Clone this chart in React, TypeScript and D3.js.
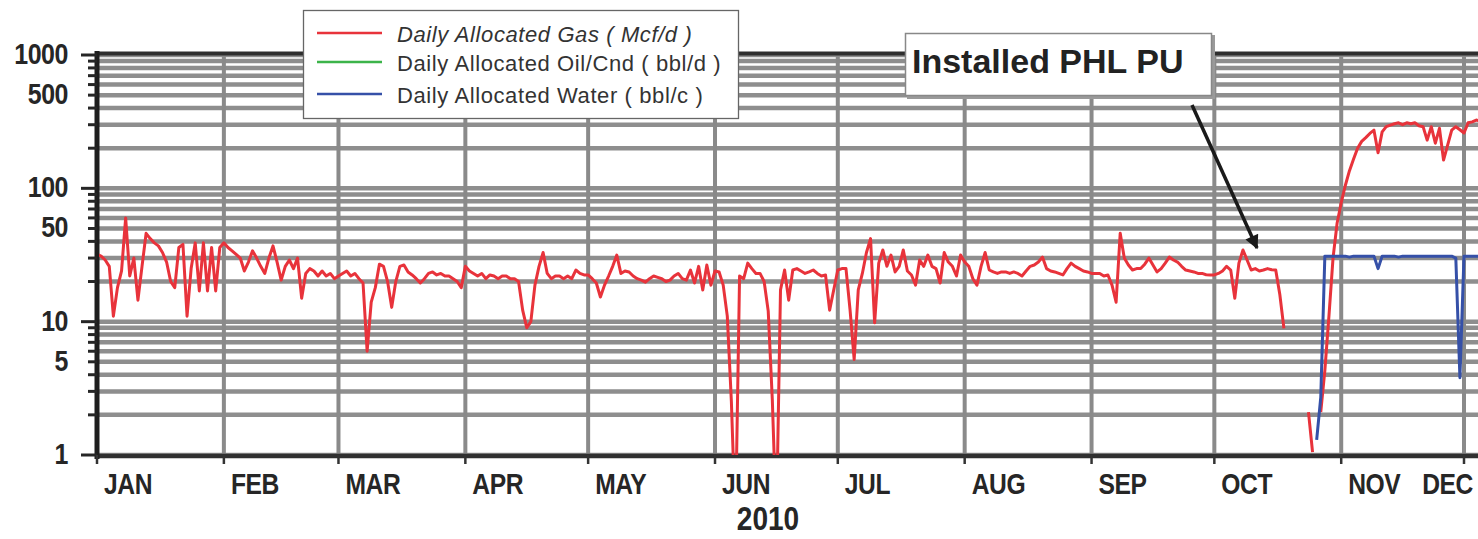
import { useEffect, useRef } from "react";
import * as d3 from "d3";

// x axis: one label per month, 2010
const MONTHS = ["JAN", "FEB", "MAR", "APR", "MAY", "JUN", "JUL", "AUG", "SEP", "OCT", "NOV", "DEC"];
const YEAR_LABEL = "2010";
const Y_TICKS = [1, 5, 10, 50, 100, 500, 1000];

const LEGEND = [
  { label: "Daily Allocated Gas ( Mcf/d )", color: "#e8333b", italic: true },
  { label: "Daily Allocated Oil/Cnd ( bbl/d )", color: "#3cb44a", italic: false },
  { label: "Daily Allocated Water ( bbl/c )", color: "#3550a8", italic: false },
];
const ANNOTATION = "Installed PHL PU";

// daily gas rate (Mcf/d); null = no data
const GAS_JAN = [32, 31, 29, 26, 11, 18, 24, 60, 22, 30, 14.5, 26, 46, 42, 39, 37, 33, 28, 20, 18, 36, 38, 11, 25, 39, 17, 39, 17, 36, 17, 36];
const GAS_FEB = [39, 36, 34, 32, 30, 24, 28, 34, 30, 26, 23, 30, 37, 28, 20.5, 26, 29, 25, 30, 15, 23, 25, 24, 22, 24, 22, 23, 21];
const GAS_MAR = [22, 23, 24, 22, 23, 21, 19.5, 6, 14, 18, 27, 26, 20, 12.8, 20, 26, 26.6, 23.6, 22.4, 21, 19.5, 21, 23, 23.6, 22.4, 23, 22, 22, 21, 20, 18];
const GAS_APR = [26, 24, 23, 22, 23, 21, 22.4, 22, 21, 22, 22, 21, 21, 20, 12.2, 9, 10, 18.8, 26, 33, 23, 21, 22, 22, 21, 22, 21, 24.4, 23, 22.4];
const GAS_MAY = [22.4, 21, 19.5, 15.3, 18.8, 22, 26, 31.6, 23, 24, 23.6, 22, 21, 20.5, 19.8, 21, 22, 21.5, 21, 20, 20.5, 22, 23, 21, 20.5, 24.4, 19.5, 26, 17.3, 26.6, 18.8];
const GAS_JUN = [24, 23.6, 18.8, 11, 2.5, 0.3, 22, 21, 27.5, 25, 23, 23, 20, 12, 2.6, 0.3, 17.3, 24.4, 14.5, 24.4, 25, 24, 23, 23.6, 24.4, 23, 22, 22.4, 12.2, 17.3];
const GAS_JUL = [24.4, 25, 25, 12.2, 5.2, 17.3, 23, 33, 42, 9.8, 27.5, 34.5, 26, 31.6, 23.6, 26, 34.5, 24, 22.4, 18.8, 29, 26, 31.6, 26, 25, 19.5, 33, 28, 26, 22, 31.6];
const GAS_AUG = [28, 26, 21, 18.8, 26, 33, 24.4, 23.6, 23, 23.6, 23.6, 23, 23.6, 23, 22, 24, 26, 26.6, 28, 30.5, 25, 24, 23.6, 23, 22.4, 25, 27.5, 26, 25, 24, 23.6];
const GAS_SEP = [23, 23, 23, 22, 22.4, 18.8, 14, 46, 30, 26.6, 24.4, 25, 25, 27, 30, 26.6, 23.6, 25, 27.5, 30.5, 29, 28, 26, 24.4, 24, 23.6, 23, 23, 22.5, 22.4];
const GAS_OCT = [22.4, 23, 24, 26, 24.4, 15, 27.5, 34.5, 29, 24.4, 25, 24, 24.4, 25, 24.5, 24.4, 16, 8.9, null, null, null, null, null, 2.1, 1.05, null, 2.1, 4.3, 11, 30, 55];
const GAS_NOV = [78, 105, 135, 165, 200, 225, 240, 258, 273, 185, 265, 290, 298, 305, 310, 300, 310, 305, 310, 295, 290, 230, 290, 218, 282, 163, 211, 273, 290, 275];
const GAS_DEC = [260, 310, 315, 325, 320];

// oil/condensate: nothing plotted
const OIL: (number | null)[] = [];

// daily water (bbl/d), starting Oct 26
const WATER_START = "2010-10-26";
const WATER_OCT = [1.3, 2.7, 31, 31, 31, 31];
const WATER_NOV = [31, 31, 30.5, 31, 31, 31, 31, 31, 31, 25, 31, 31, 31, 31, 30.5, 31, 31, 31, 31, 31, 31, 31, 31, 31, 31, 31, 31, 31, 30, 3.8];
const WATER_DEC = [31, 31, 31, 31, 31];

const GAS = [...GAS_JAN, ...GAS_FEB, ...GAS_MAR, ...GAS_APR, ...GAS_MAY, ...GAS_JUN, ...GAS_JUL, ...GAS_AUG, ...GAS_SEP, ...GAS_OCT, ...GAS_NOV, ...GAS_DEC];
const WATER = [...WATER_OCT, ...WATER_NOV, ...WATER_DEC];

const W = 1478;
const H = 539;

const App = () => {
  const svgRef = useRef<SVGSVGElement>(null);

  useEffect(() => {
    if (!svgRef.current) return;
    const svg = d3.select(svgRef.current);
    svg.selectAll("*").remove();

    const left = 97;
    const top = 55;
    const bottom = 455;
    const start = new Date(Date.UTC(2010, 0, 1));

    const x = d3
      .scaleUtc()
      .domain([start, new Date(Date.UTC(2010, 11, 1))])
      .range([left, 1464]);
    const y = d3.scaleLog().domain([1, 1000]).range([bottom, top]);

    const font = "'Liberation Sans', Arial, sans-serif";
    const grid = "#8e8e8e";
    const ink = "#262626";

    // horizontal grid, one per log tick
    svg
      .append("g")
      .selectAll("line")
      .data(y.ticks())
      .join("line")
      .attr("x1", left)
      .attr("x2", W)
      .attr("y1", (d) => y(d))
      .attr("y2", (d) => y(d))
      .attr("stroke", grid)
      .attr("stroke-width", 4.5);

    // vertical grid at month starts
    const monthDates = MONTHS.map((_, i) => new Date(Date.UTC(2010, i, 1)));
    svg
      .append("g")
      .selectAll("line")
      .data(monthDates.slice(1))
      .join("line")
      .attr("x1", (d) => x(d))
      .attr("x2", (d) => x(d))
      .attr("y1", top)
      .attr("y2", bottom)
      .attr("stroke", "#8a8a8a")
      .attr("stroke-width", 4);

    // frame / axes
    svg.append("line").attr("x1", left).attr("x2", W).attr("y1", top - 1.5).attr("y2", top - 1.5)
      .attr("stroke", "#2e2e2e").attr("stroke-width", 4);
    svg.append("line").attr("x1", left - 2).attr("x2", W).attr("y1", bottom + 1).attr("y2", bottom + 1)
      .attr("stroke", "#303030").attr("stroke-width", 4.5);
    svg.append("line").attr("x1", left).attr("x2", left).attr("y1", top - 4).attr("y2", bottom + 4)
      .attr("stroke", "#1e1e1e").attr("stroke-width", 5);

    // y ticks
    svg
      .append("g")
      .selectAll("line")
      .data(y.ticks())
      .join("line")
      .attr("x1", (d) => (Math.log10(d) % 1 === 0 ? left - 16 : left - 9))
      .attr("x2", left)
      .attr("y1", (d) => y(d))
      .attr("y2", (d) => y(d))
      .attr("stroke", ink)
      .attr("stroke-width", 3);

    // x ticks
    svg
      .append("g")
      .selectAll("line")
      .data(monthDates)
      .join("line")
      .attr("x1", (d) => x(d))
      .attr("x2", (d) => x(d))
      .attr("y1", bottom)
      .attr("y2", bottom + 9)
      .attr("stroke", "#333")
      .attr("stroke-width", 2.5);

    // y labels (condensed bold)
    Y_TICKS.forEach((t) => {
      svg
        .append("text")
        .attr("transform", `translate(68,${y(t) + 9}) scale(0.86,1)`)
        .attr("text-anchor", "end")
        .attr("font-family", font)
        .attr("font-weight", "bold")
        .attr("font-size", 29)
        .attr("letter-spacing", -0.5)
        .attr("fill", ink)
        .text(t);
    });

    // month labels, kept inside the visible area
    MONTHS.forEach((m, i) => {
      const t = svg
        .append("text")
        .attr("font-family", font)
        .attr("font-weight", "bold")
        .attr("font-size", 29)
        .attr("letter-spacing", -0.5)
        .attr("fill", ink)
        .text(m);
      const w = (t.node() as SVGTextElement).getComputedTextLength() * 0.85;
      const lx = Math.min(x(monthDates[i]) + 7, W - 5 - w);
      t.attr("transform", `translate(${lx},494) scale(0.85,1)`);
    });

    svg
      .append("text")
      .attr("transform", `translate(768,530) scale(0.85,1)`)
      .attr("text-anchor", "middle")
      .attr("font-family", font)
      .attr("font-weight", "bold")
      .attr("font-size", 33)
      .attr("fill", ink)
      .text(YEAR_LABEL);

    // data
    svg
      .append("defs")
      .append("clipPath")
      .attr("id", "plot-clip")
      .append("rect")
      .attr("x", left + 2)
      .attr("y", top)
      .attr("width", W - left)
      .attr("height", bottom - top);

    type Pt = { date: Date; v: number | null };
    const line = d3
      .line<Pt>()
      .defined((d) => d.v != null)
      .x((d) => x(d.date))
      .y((d) => y(Math.max(d.v as number, 0.1)));

    const waterStart = new Date(WATER_START + "T00:00:00Z");
    const series: { pts: Pt[]; color: string }[] = [
      { pts: GAS.map((v, i) => ({ date: d3.utcDay.offset(start, i), v })), color: LEGEND[0].color },
      { pts: OIL.map((v, i) => ({ date: d3.utcDay.offset(start, i), v })), color: LEGEND[1].color },
      { pts: WATER.map((v, i) => ({ date: d3.utcDay.offset(waterStart, i), v })), color: LEGEND[2].color },
    ];

    const plot = svg.append("g").attr("clip-path", "url(#plot-clip)");
    series.forEach((s) => {
      if (!s.pts.length) return;
      plot
        .append("path")
        .attr("d", line(s.pts))
        .attr("fill", "none")
        .attr("stroke", s.color)
        .attr("stroke-width", 3)
        .attr("stroke-linejoin", "round");
    });

    // legend
    const lg = svg.append("g");
    lg.append("rect")
      .attr("x", 303.5)
      .attr("y", 10.5)
      .attr("width", 435)
      .attr("height", 108)
      .attr("fill", "#fff")
      .attr("stroke", "#666")
      .attr("stroke-width", 1.3);
    const rowY = [33, 62, 94];
    LEGEND.forEach((e, i) => {
      lg.append("line")
        .attr("x1", 317)
        .attr("x2", 382)
        .attr("y1", rowY[i])
        .attr("y2", rowY[i])
        .attr("stroke", e.color)
        .attr("stroke-width", 2.5);
      lg.append("text")
        .attr("x", 397)
        .attr("y", rowY[i] + 9)
        .attr("font-family", font)
        .attr("font-size", 22)
        .attr("font-style", e.italic ? "italic" : "normal")
        .attr("letter-spacing", 0.6)
        .attr("fill", "#333")
        .text(e.label);
    });

    // annotation
    svg.append("rect").attr("x", 907).attr("y", 35).attr("width", 308).attr("height", 64).attr("fill", "#9a9a9a");
    svg.append("rect")
      .attr("x", 905.5)
      .attr("y", 33.5)
      .attr("width", 306)
      .attr("height", 62)
      .attr("fill", "#fff")
      .attr("stroke", "#888")
      .attr("stroke-width", 1.5);
    svg.append("text")
      .attr("x", 912)
      .attr("y", 73)
      .attr("font-family", font)
      .attr("font-weight", "bold")
      .attr("font-size", 34)
      .attr("fill", "#222")
      .text(ANNOTATION);

    svg.select("defs")
      .append("marker")
      .attr("id", "arrow")
      .attr("viewBox", "0 0 10 10")
      .attr("refX", 9)
      .attr("refY", 5)
      .attr("markerWidth", 16)
      .attr("markerHeight", 14)
      .attr("markerUnits", "userSpaceOnUse")
      .attr("orient", "auto")
      .append("path")
      .attr("d", "M0,0 L10,5 L0,10 Z")
      .attr("fill", "#1a1a1a");
    svg.append("line")
      .attr("x1", 1192)
      .attr("y1", 105)
      .attr("x2", 1257)
      .attr("y2", 248)
      .attr("stroke", "#1a1a1a")
      .attr("stroke-width", 3.5)
      .attr("marker-end", "url(#arrow)");
  }, []);

  return (
    <div style={{ position: "fixed", left: 0, top: 0, width: W, height: H, overflow: "hidden", background: "#fff" }}>
      <svg ref={svgRef} width={W} height={H} />
    </div>
  );
};

export default App;
